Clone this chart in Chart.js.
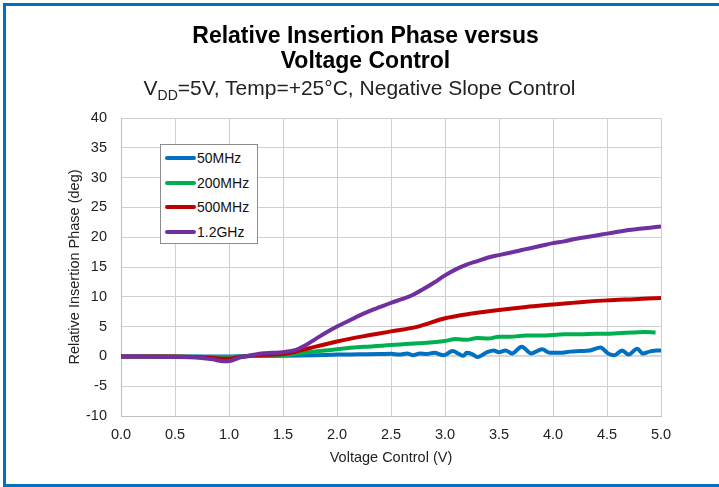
<!DOCTYPE html>
<html>
<head>
<meta charset="utf-8">
<script src="https://cdn.jsdelivr.net/npm/chart.js@4.4.1/dist/chart.umd.min.js"></script>
<style>
  html, body { margin: 0; padding: 0; background: #fff; }
  #wrap { position: relative; width: 719px; height: 487px; overflow: hidden; font-family: "Liberation Sans", Arial, sans-serif; }
  #frame { position: absolute; left: 3px; top: 3px; width: 730px; height: 478px; border: 3px solid #0070c0; }
  #title { position: absolute; left: 0; width: 731px; top: 23px; text-align: center; font-weight: bold; font-size: 23px; line-height: 25px; color: #000; }
  #subtitle { position: absolute; left: 0; width: 719px; top: 76px; text-align: center; font-size: 21px; color: #222; }
  #subtitle sub { font-size: 14px; vertical-align: -5px; line-height: 0; }
  #legend { position: absolute; left: 160px; top: 144px; width: 98px; height: 100px; border: 1px solid #8c8c8c; background: #fff; box-sizing: border-box; }
  .item { position: absolute; left: 4px; height: 16px; font-size: 14px; color: #111; line-height: 16px; white-space: nowrap; }
  .item span.sw { display: inline-block; width: 31px; height: 4px; border-radius: 2px; vertical-align: middle; margin-right: 1px; position: relative; top: -1px; }
  canvas { position: absolute; left: 0; top: 0; }
</style>
</head>
<body>
<div id="wrap">
  <div id="frame"></div>
  <canvas id="phaseChart" width="719" height="487"></canvas>
  <div id="title">Relative Insertion Phase versus<br>Voltage Control</div>
  <div id="subtitle">V<sub>DD</sub>=5V, Temp=+25°C, Negative Slope Control</div>
  <div id="legend"></div>
</div>
<script>
// series labels + colours
const seriesNames = ["50MHz", "200MHz", "500MHz", "1.2GHz"];
const seriesColors = ["#0070c0", "#00b050", "#c00000", "#7030a0"];

// axis ticks
const xTicks = [0.0, 0.5, 1.0, 1.5, 2.0, 2.5, 3.0, 3.5, 4.0, 4.5, 5.0];
const yTicks = [-10, -5, 0, 5, 10, 15, 20, 25, 30, 35, 40];

// 50MHz (noisy)
const v50 = [0, 0.5, 1.0, 1.2, 1.5, 1.8, 2.0, 2.2, 2.4, 2.5, 2.58, 2.65, 2.7, 2.77, 2.83, 2.9, 2.99, 3.07, 3.13, 3.17, 3.2, 3.25, 3.3, 3.39, 3.45, 3.5, 3.56, 3.62, 3.71, 3.8, 3.9, 3.97, 4.06, 4.16, 4.25, 4.34, 4.44, 4.51, 4.57, 4.64, 4.7, 4.78, 4.83, 4.9, 4.96, 5.0];
const p50 = [0, 0, 0, 0.05, 0.1, 0.2, 0.3, 0.35, 0.4, 0.45, 0.3, 0.5, 0.2, 0.5, 0.4, 0.6, 0.2, 0.9, 0.4, 0.1, 0.6, 0.4, -0.1, 0.7, 1.0, 0.7, 1.0, 0.5, 1.6, 0.5, 1.2, 0.6, 0.6, 0.8, 0.9, 1.0, 1.5, 0.5, 0.2, 1.0, 0.3, 1.3, 0.5, 0.85, 1.0, 1.0];

// 200MHz
const v200 = [0, 0.5, 0.9, 1.0, 1.2, 1.5, 1.7, 2.0, 2.25, 2.5, 2.75, 3.0, 3.1, 3.2, 3.3, 3.4, 3.5, 3.6, 3.75, 3.9, 4.0, 4.1, 4.25, 4.4, 4.5, 4.6, 4.75, 4.85, 4.95];
const p200 = [0, 0, -0.1, -0.1, 0.05, 0.2, 0.6, 1.2, 1.6, 1.9, 2.2, 2.6, 2.9, 2.8, 3.1, 3.0, 3.3, 3.3, 3.5, 3.5, 3.6, 3.7, 3.7, 3.8, 3.8, 3.9, 4.0, 4.1, 4.0];

// 500MHz
const v500 = [0, 0.5, 0.8, 1.0, 1.1, 1.25, 1.5, 1.6, 1.75, 2.0, 2.25, 2.5, 2.75, 3.0, 3.25, 3.5, 3.75, 4.0, 4.25, 4.5, 4.75, 5.0];
const p500 = [0, 0, -0.2, -0.4, -0.1, 0.2, 0.4, 0.7, 1.4, 2.5, 3.4, 4.2, 5.0, 6.4, 7.2, 7.8, 8.3, 8.7, 9.1, 9.4, 9.6, 9.8];

// 1.2GHz
const v1200 = [0, 0.5, 0.7, 0.85, 0.95, 1.0, 1.1, 1.2, 1.3, 1.4, 1.5, 1.6, 1.7, 1.8, 1.9, 2.0, 2.1, 2.2, 2.3, 2.4, 2.5, 2.6, 2.7, 2.8, 2.9, 3.0, 3.1, 3.2, 3.3, 3.4, 3.5, 3.6, 3.7, 3.8, 3.9, 4.0, 4.1, 4.2, 4.3, 4.4, 4.5, 4.6, 4.7, 4.8, 4.9, 5.0];
const p1200 = [0, -0.1, -0.2, -0.5, -0.8, -0.8, -0.2, 0.2, 0.5, 0.6, 0.7, 1.0, 1.8, 2.9, 4.0, 5.0, 5.9, 6.8, 7.6, 8.3, 9.0, 9.6, 10.3, 11.3, 12.4, 13.6, 14.6, 15.4, 16.0, 16.6, 17.0, 17.4, 17.8, 18.2, 18.6, 19.0, 19.3, 19.7, 20.0, 20.3, 20.6, 20.9, 21.2, 21.4, 21.6, 21.8];

const xs = [v50, v200, v500, v1200];
const ys = [p50, p200, p500, p1200];

const datasets = seriesNames.map((name, i) => ({
  label: name,
  data: xs[i].map((v, k) => ({ x: v, y: ys[i][k] })),
  borderColor: seriesColors[i],
  backgroundColor: seriesColors[i],
  borderWidth: 4,
  pointRadius: 0,
  cubicInterpolationMode: "monotone",
  order: 3 - i // purple drawn on top
}));

const fontFamily = "'Liberation Sans', Arial, sans-serif";
const tickFont = { family: fontFamily, size: 14.5 };

new Chart(document.getElementById("phaseChart"), {
  type: "line",
  data: { datasets },
  options: {
    responsive: false,
    animation: false,
    layout: { padding: { left: 66, right: 58, top: 118, bottom: 16 } },
    plugins: { legend: { display: false }, tooltip: { enabled: false } },
    scales: {
      x: {
        type: "linear",
        min: 0, max: 5,
        afterBuildTicks: s => { s.ticks = xTicks.map(v => ({ value: v })); },
        afterFit: s => { s.height = 55; },
        ticks: { font: tickFont, color: "#222", padding: 10, callback: v => v.toFixed(1) },
        grid: { color: "#d0d0d0", lineWidth: 1, drawTicks: false },
        border: { color: "#bfbfbf" },
        title: { display: true, text: "Voltage Control (V)", font: tickFont, color: "#222", padding: { top: 10 } }
      },
      y: {
        min: -10, max: 40,
        afterBuildTicks: s => { s.ticks = yTicks.map(v => ({ value: v })); },
        afterFit: s => { s.width = 55; },
        ticks: { font: tickFont, color: "#222", padding: 14 },
        grid: { color: (c) => c.tick && c.tick.value === 0 ? "#d8d8d8" : "#d0d0d0", lineWidth: (c) => c.tick && c.tick.value === 0 ? 2 : 1, drawTicks: false },
        border: { color: "#bfbfbf" },
        title: { display: true, text: "Relative Insertion Phase (deg)", font: tickFont, color: "#222", padding: 0 }
      }
    }
  }
});

// legend box inside the plot, like the original
const legendBox = document.getElementById("legend");
const itemTops = [5, 30, 54, 79];
legendBox.innerHTML = seriesNames.map((name, i) => `
  <div class="item" style="top:${itemTops[i]}px"><span class="sw" style="background:${seriesColors[i]}"></span>${name}</div>
`).join("");
</script>
</body>
</html>
